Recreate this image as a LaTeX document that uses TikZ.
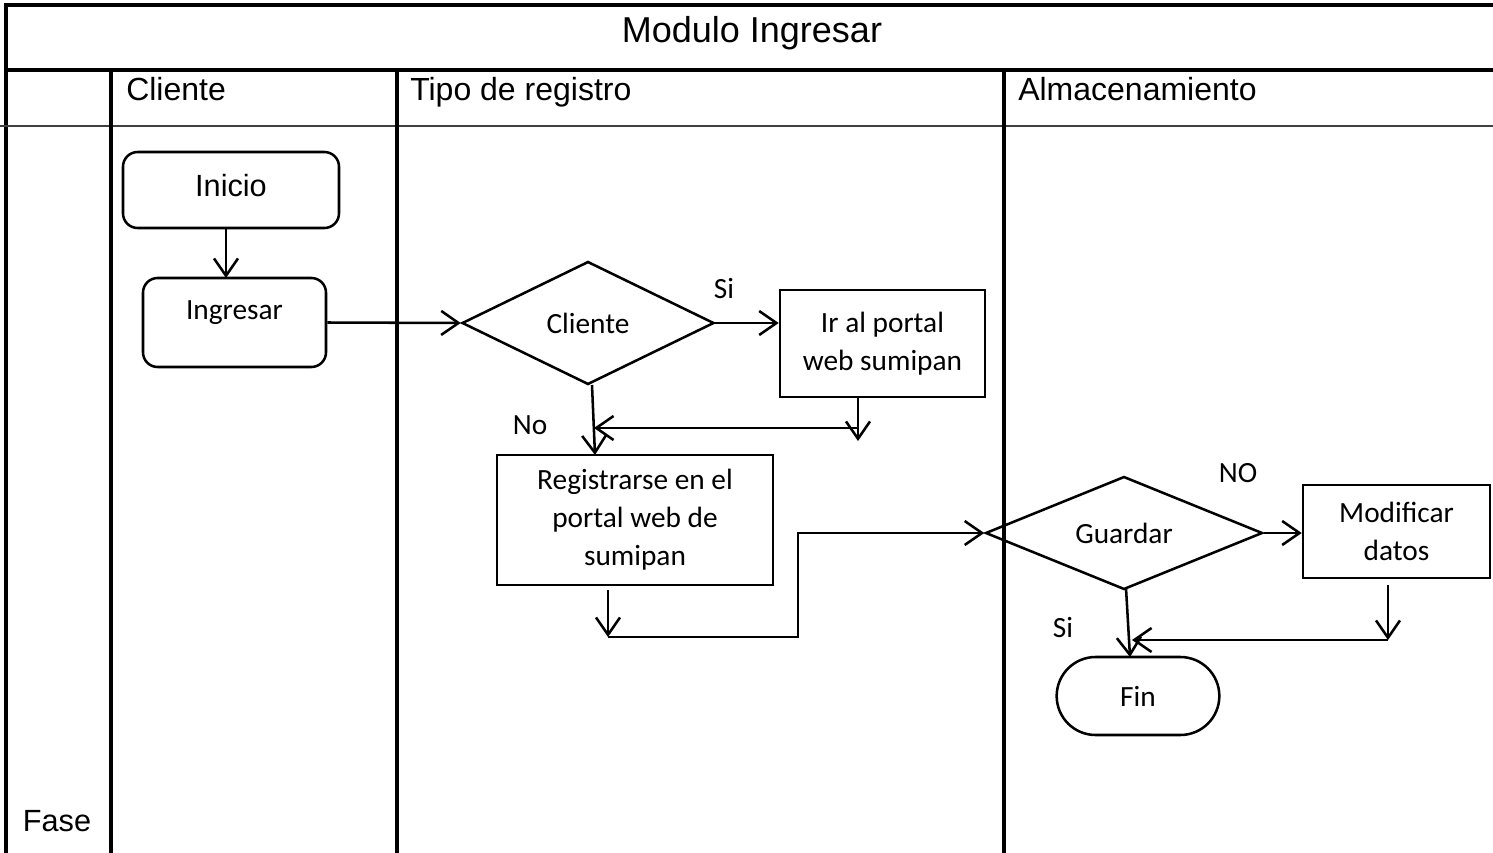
\documentclass[tikz,border=0pt]{standalone}
\usepackage{fontspec}
\setmainfont{Liberation Sans}
\newfontfamily\calib{Carlito}
\usetikzlibrary{arrows.meta,shapes.geometric,shapes.misc}
\tikzset{
  grid/.style={line width=2.4pt},
  fc/.style={line width=1.9pt},
  arr/.style={fc,-{Straight Barb[length=13pt,width=18pt,line width=1.9pt]}},
  rbox/.style={fc,draw,rounded corners=11pt,inner sep=0pt},
  pbox/.style={fc,draw,inner sep=0pt,align=center,font=\calib\fontsize{22}{28.5}\selectfont},
  dec/.style={fc,draw,diamond,inner sep=0pt,font=\calib\fontsize{22}{26}\selectfont},
  lbl/.style={font=\calib\fontsize{22}{26}\selectfont,inner sep=0pt},
  hdr/.style={font=\fontsize{24}{28}\selectfont,inner sep=0pt,anchor=base west},
}
\begin{document}
\begin{tikzpicture}[x=0.75pt,y=-0.75pt]
\useasboundingbox (0,0) rectangle (1493,853);
% table
\draw[grid] (6,853) -- (6,5) -- (1493,5);
\draw[grid] (6,70) -- (1493,70);
\draw[line width=1.4pt,black!75] (0,126) -- (1493,126);
\draw[grid] (111,70) -- (111,853);
\draw[grid] (397,70) -- (397,853);
\draw[grid] (1004,70) -- (1004,853);
\node[font=\fontsize{27}{32}\selectfont,inner sep=0pt,anchor=base] (title) at (752,42) {Modulo Ingresar};
\node[hdr] (h1) at (126,100) {Cliente};
\node[hdr] (h2) at (410,100) {Tipo de registro};
\node[hdr] (h3) at (1018,100) {Almacenamiento};
\node[font=\fontsize{23}{28}\selectfont,inner sep=0pt,anchor=base] (fase) at (57,831) {Fase};
% nodes
\node[rbox,minimum width=162pt,minimum height=57pt,
  label={[font=\fontsize{23}{28}\selectfont,inner sep=0pt,yshift=3pt]center:Inicio}] (inicio) at (231,190) {};
\node[rbox,minimum width=137.25pt,minimum height=66.75pt,
  label={[lbl,yshift=7.5pt]center:Ingresar}] (ingresar) at (234.5,322.5) {};
\node[dec,minimum width=189pt,minimum height=92.25pt,shape aspect=2.05] (c1) at (588,323) {Cliente};
\node[pbox,minimum width=153.75pt,minimum height=80.25pt] (ir) at (882.5,343.5) {Ir al portal\\web sumipan};
\node[pbox,minimum width=207pt,minimum height=97.5pt] (reg) at (635,520) {Registrarse en el\\portal web de\\sumipan};
\node[dec,minimum width=207.75pt,minimum height=84.75pt,shape aspect=2.45] (g) at (1124,533) {Guardar};
\node[pbox,minimum width=140.25pt,minimum height=69.75pt] (mod) at (1396.5,531.5) {Modificar\\datos};
\node[fc,draw,rounded rectangle,minimum width=122pt,minimum height=58.5pt,inner sep=0pt,
  font=\calib\fontsize{22}{26}\selectfont] (fin) at (1138,696) {Fin};
% labels
\node[lbl] (si1) at (724,289) {Si};
\node[lbl] (no1) at (530,425) {No};
\node[lbl] (no2) at (1238,473) {NO};
\node[lbl] (si2) at (1063,628) {Si};
% coordinates
\coordinate (a1) at (226,228);
\coordinate (a2) at (226,278);
\coordinate (i1) at (858,397);
\coordinate (i2) at (858,441);
\coordinate (i3) at (858,428);
\coordinate (i4) at (594,428);
\coordinate (c1b) at (592,385);
\coordinate (r0) at (595,455);
\coordinate (r1) at (608,590);
\coordinate (r2) at (608,637);
\coordinate (b1) at (798,533);
\coordinate (m1) at (1388,585);
\coordinate (m2) at (1388,640);
\coordinate (m3) at (1132,640);
\coordinate (gb) at (1126,588);
\coordinate (f0) at (1130,657);
% connectors
\draw[arr] (a1) -- (a2);
\draw[arr] (ingresar.east) -- (c1.west);
\draw[arr] (c1.east) -- (c1.east -| ir.west);
\draw[arr] (i1) -- (i2);
\draw[arr] (i3) -- (i4);
\draw[arr] (c1b) -- (r0);
\draw[arr] (r1) -- (r2);
\draw[arr] (r2) -| (b1) -- (g.west);
\draw[arr] (g.east) -- (g.east -| mod.west);
\draw[arr] (m1) -- (m2);
\draw[arr] (m2) -- (m3);
\draw[arr] (gb) -- (f0);
\end{tikzpicture}
\end{document}
